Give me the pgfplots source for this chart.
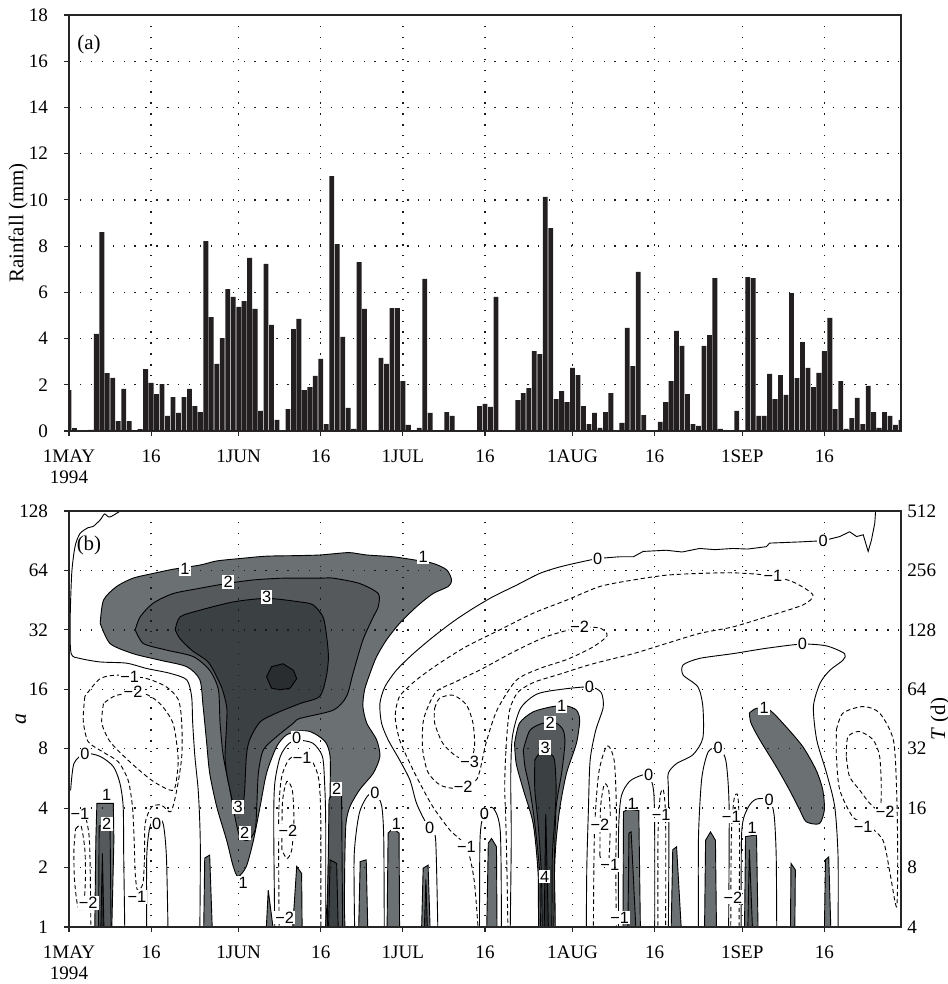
\documentclass[border=0pt]{standalone}
\usepackage{pgfplots}
\pgfplotsset{compat=1.18}
\usepackage{fontspec}
\setmainfont{Liberation Serif}
\newfontfamily\lblfont{Liberation Sans}
\definecolor{barc}{HTML}{231F20}
\definecolor{ca}{HTML}{6B7072}
\definecolor{cb}{HTML}{55595B}
\definecolor{cc}{HTML}{3B4042}
\definecolor{cd}{HTML}{2A2D2F}
\tikzset{
 lin/.style={black, line width=0.5pt, smooth, tension=0.45},
 neg/.style={lin, dash pattern=on 2.4pt off 1.6pt},
 spk/.style={fill=ca, draw=black, line width=0.5pt},
 lb/.style={fill=white, inner sep=0.7pt, font=\lblfont\fontsize{9}{9.5}\selectfont},
}
\pgfplotsset{
 myax/.style={scale only axis, width=457.6pt, height=228.8pt, xmin=0, xmax=152,
  xtick={0,15,31,46,61,76,92,107,123,138},
  xticklabels={{1MAY\\1994},16,1JUN,16,1JUL,16,1AUG,16,1SEP,16},
  xticklabel style={align=center, yshift=-4pt, font=\fontsize{10.5}{11.5}\selectfont},
  yticklabel style={xshift=-5pt, font=\fontsize{10.5}{11.5}\selectfont},
  tick align=outside, tick pos=left, major tick length=3pt,
  grid=major, grid style={black!90, line width=0.75pt, dash pattern=on 0.75pt off 5.25pt},
  axis line style={black!85, line width=0.6pt},
  tick style={black!85, line width=0.6pt},
  /pgf/number format/assume math mode=true},
}
\begin{document}
\begin{tikzpicture}
% ---------------- top panel ----------------
\begin{axis}[myax, at={(0,272.8pt)}, anchor=south west,
  ymin=0, ymax=18, ytick={0,2,...,18},
  ylabel={Rainfall (mm)},
  every axis y label/.style={at={(axis description cs:-0.061,0.5)}, rotate=90, anchor=center, font=\fontsize{11.5}{12.5}\selectfont}]
\addplot[ybar, bar width=0.88, bar shift=0pt, fill=barc, draw=none] table {
x y
0 1.77
1 0.12
2 0.02
3 0.02
4 0.05
5 4.2
6 8.6
7 2.5
8 2.3
9 0.43
10 1.82
11 0.43
12 0.04
13 0.08
14 2.68
15 2.08
16 1.6
17 2.03
18 0.65
19 1.47
20 0.78
21 1.47
22 1.82
23 1.08
24 0.82
25 8.22
26 4.93
27 2.9
28 4.02
29 6.14
30 5.8
31 5.37
32 5.62
33 7.49
34 5.28
35 0.87
36 7.23
37 4.59
38 0.48
39 0
40 0.95
41 4.41
42 4.85
43 1.77
44 1.9
45 2.38
46 3.12
47 0.3
48 11.03
49 8.09
50 4.07
51 1.0
52 0.09
53 7.31
54 5.28
55 0.04
56 0
57 3.16
58 2.9
59 5.32
60 5.32
61 2.16
62 0.26
63 0.04
64 0.13
65 6.58
66 0.78
67 0.04
68 0
69 0.82
70 0.65
71 0
72 0
73 0
74 0
75 1.08
76 1.17
77 1.04
78 5.8
79 0.04
80 0
81 0
82 1.34
83 1.64
84 1.86
85 3.46
86 3.33
87 10.13
88 8.78
89 1.38
90 1.73
91 1.25
92 2.73
93 2.42
94 1.08
95 0.3
96 0.78
97 0.13
98 0.82
99 1.64
100 0
101 0.35
102 4.46
103 2.81
104 6.88
105 0.69
106 0
107 0
108 0.39
109 1.25
110 2.16
111 4.33
112 3.68
113 1.6
114 0.3
115 0.22
116 3.68
117 4.15
118 6.62
119 0.09
120 0
121 0
122 0.87
123 0
124 6.66
125 6.62
126 0.65
127 0.65
128 2.47
129 1.38
130 2.42
131 1.56
132 5.97
133 2.29
134 3.85
135 2.73
136 1.9
137 2.51
138 3.46
139 4.89
140 0.95
141 2.16
142 0.09
143 0.56
144 1.43
145 0.3
146 1.95
147 0.82
148 0.13
149 0.82
150 0.65
151 0.26
152 0.48
};
\node[font=\fontsize{11.5}{12.5}\selectfont] at (axis description cs:0.024,0.928) {(a)};
\end{axis}
% ---------------- bottom panel ----------------
\begin{axis}[myax, at={(0,0)}, anchor=south west, axis on top,
  ymin=0, ymax=7, ytick={0,...,7}, yticklabels={1,2,4,8,16,32,64,128},
  ylabel={\textit{a}},
  every axis y label/.style={at={(axis description cs:-0.058,0.5)}, rotate=90, anchor=center, font=\fontsize{12}{13}\selectfont}]
% big blob level 1
\addplot[fill=ca, draw=black, line width=0.5pt, smooth, tension=0.45] coordinates {
(5.7,5.11) (6.3,5.50) (8.7,5.73) (11.7,5.87) (15.4,5.95) (19.0,6.02) (23.9,6.09) (27.0,6.16) (31.2,6.20) (36.1,6.24) (42.2,6.25) (45.8,6.26) (48.3,6.28) (51.3,6.30) (54.4,6.26) (59.2,6.23) (62.9,6.18) (66.5,6.12) (69.0,6.01) (69.9,5.84) (69.3,5.73) (66.5,5.61) (63.5,5.39) (60.4,5.11) (58.0,4.83) (56.2,4.55) (55.0,4.27) (54.0,3.99) (53.7,3.71) (54.4,3.43) (56.2,3.15) (56.8,2.87) (55.6,2.59) (53.1,2.31) (51.3,2.02) (50.6,1.74) (50.4,1.18) (50.3,0.4) (50.2,-0.2) (47.0,-0.2) (47.2,0.5) (47.4,1.18) (47.7,2.31) (47.7,2.87) (47.0,3.09) (45.8,3.20) (44.0,3.29) (42.2,3.30) (39.7,3.23) (37.9,3.03) (36.1,2.59) (34.9,2.02) (33.7,1.46) (32.4,1.02) (30.9,0.85) (30.0,1.02) (28.8,1.46) (27.0,2.02) (25.7,2.59) (25.1,3.15) (24.5,3.71) (23.9,4.16) (21.5,4.38) (16.6,4.49) (11.7,4.60) (7.5,4.77) (5.7,5.11)};
% level 2
\addplot[fill=cb, draw=black, line width=0.5pt, smooth, tension=0.45] coordinates {
(12.1,5.0) (13.0,5.22) (15.4,5.45) (19.0,5.61) (23.9,5.70) (28.8,5.78) (33.7,5.84) (39.1,5.87) (45.8,5.87) (48.3,5.87) (53.1,5.78) (56.5,5.61) (56.5,5.39) (55.6,5.22) (53.7,4.83) (51.9,4.27) (50.7,3.88) (48.3,3.65) (42.2,3.51) (41.0,3.43) (37.9,3.20) (35.5,2.98) (34.6,2.59) (34.3,2.02) (34.0,1.63) (32.7,1.46) (31.2,1.52) (30.3,1.86) (29.4,2.31) (28.2,2.87) (27.6,3.43) (27.3,3.99) (25.7,4.32) (22.7,4.55) (17.8,4.66) (13.6,4.77) (12.1,5.0)};
% level 3
\addplot[fill=cc, draw=black, line width=0.5pt, smooth, tension=0.45] coordinates {
(19.4,5.0) (20.3,5.22) (23.9,5.33) (30.0,5.47) (36.1,5.53) (42.2,5.47) (44.6,5.42) (46.4,5.22) (47.0,4.94) (47.4,4.55) (47.0,4.21) (45.8,3.88) (42.2,3.76) (37.9,3.60) (34.9,3.45) (33.0,3.15) (32.4,2.87) (32.1,2.31) (31.8,2.08) (30.9,2.0) (30.0,2.08) (29.4,2.31) (28.8,2.59) (28.5,2.87) (28.8,3.43) (28.8,3.71) (27.8,4.05) (25.5,4.45) (22.5,4.65) (20.3,4.85) (19.4,5.0)};
% level 4 core
\addplot[fill=cd, draw=black, line width=0.5pt] coordinates {
(36.1,4.21) (37.0,4.38) (39.1,4.43) (41.0,4.32) (41.6,4.18) (40.4,4.02) (38.5,3.99) (37.0,4.02) (36.1,4.21)};
% spikes
\addplot[spk] coordinates {(4.7,-0.1) (4.9,1.46) (5.1,2.08) (8.1,2.08) (8.2,1.46) (7.8,-0.1)};
\addplot[spk, fill=cb] coordinates {(5.4,-0.1) (5.5,1.70) (7.5,1.72) (7.7,-0.1)};
\addplot[spk, fill=cd] coordinates {(5.8,-0.1) (6.1,1.24) (6.4,-0.1)};
\addplot[spk] coordinates {(24.6,-0.1) (24.8,1.16) (25.7,1.21) (26.2,-0.1)};
\addplot[spk] coordinates {(36.0,-0.1) (36.4,0.62) (37.4,-0.1)};
\addplot[spk] coordinates {(40.8,-0.1) (41.6,1.02) (42.5,0.9) (42.6,-0.1)};
\addplot[spk, fill=cb] coordinates {(47.2,-0.1) (47.5,2.14) (48.3,2.28) (49.8,2.22) (50.0,-0.1)};
\addplot[spk, fill=cc] coordinates {(47.4,-0.1) (47.7,1.13) (48.9,1.07) (49.2,-0.1)};
\addplot[spk] coordinates {(52.9,-0.1) (53.2,1.1) (54.3,1.13) (54.6,-0.1)};
\addplot[spk] coordinates {(58.1,-0.1) (58.3,1.58) (59.2,1.66) (60.3,1.58) (60.4,-0.1)};
\addplot[spk] coordinates {(64.4,-0.1) (64.7,0.99) (65.6,1.04) (66.0,-0.1)};
\addplot[spk, fill=cc] coordinates {(64.9,-0.1) (65.2,0.8) (65.5,-0.1)};
\addplot[spk] coordinates {(76.3,-0.1) (76.6,1.41) (77.2,1.49) (78.1,1.35) (78.2,-0.1)};
% August feature
\addplot[fill=ca, draw=black, line width=0.5pt, smooth, tension=0.45] coordinates {
(81.4,3.09) (82.3,3.43) (84.8,3.62) (88.4,3.71) (90.9,3.72) (92.7,3.65) (93.3,3.48) (92.7,3.09) (90.9,2.59) (89.7,2.02) (89.0,1.46) (88.7,0.90) (88.7,-0.2) (86.0,-0.2) (85.7,0.90) (84.8,1.74) (83.0,2.31) (81.7,2.75) (81.4,3.09)};
\addplot[fill=cb, draw=black, line width=0.5pt, smooth, tension=0.45] coordinates {
(83.0,2.98) (84.2,3.31) (86.6,3.43) (89.0,3.43) (90.3,3.31) (90.6,3.09) (90.0,2.59) (89.0,2.02) (88.7,1.18) (88.4,-0.2) (86.3,-0.2) (86.0,0.9) (85.1,1.74) (84.2,2.31) (83.3,2.70) (83.0,2.98)};
\addplot[fill=cc, draw=black, line width=0.5pt, smooth, tension=0.45] coordinates {
(85.1,2.81) (86.0,2.92) (87.8,2.92) (88.7,2.81) (89.0,2.31) (88.7,1.74) (88.3,1.18) (88.1,-0.2) (86.6,-0.2) (86.3,0.9) (85.7,1.74) (85.1,2.31) (85.1,2.81)};
\addplot[spk, fill=cd] coordinates {(86.8,-0.1) (87.1,1.9) (87.6,-0.1)};
% tilted September blob
\addplot[fill=ca, draw=black, line width=0.5pt, smooth, tension=0.45] coordinates {
(124.3,3.60) (125.6,3.68) (128.0,3.65) (131.0,3.37) (134.1,3.03) (136.5,2.64) (137.7,2.31) (138.0,1.97) (137.1,1.74) (134.7,1.77) (133.5,1.97) (131.6,2.31) (129.2,2.70) (126.2,3.15) (124.6,3.43) (124.3,3.60)};
\addplot[spk] coordinates {(101.2,-0.1) (101.3,1.94) (102.1,1.98) (104.1,1.96) (104.4,-0.1)};
\addplot[spk, fill=cb] coordinates {(102.1,-0.1) (102.3,1.58) (102.7,1.60) (103.6,-0.1)};
\addplot[spk] coordinates {(110.0,-0.1) (110.3,1.30) (111.0,1.35) (111.9,-0.1)};
\addplot[spk] coordinates {(116.1,-0.1) (116.3,1.46) (117.2,1.60) (118.1,1.46) (118.3,-0.1)};
\addplot[spk] coordinates {(123.4,-0.1) (123.6,1.52) (125.6,1.55) (125.9,-0.1)};
\addplot[spk, fill=cb] coordinates {(124.0,-0.1) (124.3,1.3) (124.9,-0.1)};
\addplot[spk] coordinates {(131.8,-0.1) (131.9,1.07) (132.7,0.96) (132.6,-0.1)};
\addplot[spk] coordinates {(138.0,-0.1) (138.2,1.13) (138.8,1.18) (139.2,-0.1)};
% ---- contour lines ----
\addplot[lin] coordinates {(10.2,7.05) (7.5,6.9) (6.5,6.95) (5.7,6.85) (4.4,6.74) (3.5,6.72) (2.0,6.62) (1.1,6.40) (0.5,5.95) (0.2,5.11) (0.4,4.6) (2.0,4.52) (5.7,4.46) (10.5,4.44) (14.2,4.35) (18.4,4.27) (21.5,4.16) (22.4,3.88) (22.6,3.43) (23.0,2.87) (23.6,2.31) (23.9,1.74) (24.0,1.2) (23.9,-0.1)};
\addplot[lin] coordinates {(0.3,2.3) (0.9,2.75) (2.9,2.92) (5.7,2.87) (8.1,2.70) (9.3,2.42) (9.9,2.02) (10.0,1.18) (10.2,-0.1)};
\addplot[neg] coordinates {(2.9,3.88) (2.6,3.48) (3.5,3.12) (6.3,2.94) (9.0,2.78) (10.8,2.47) (11.6,2.02) (11.9,1.46) (12.1,0.9) (12.5,0.62) (13.5,0.73) (13.8,1.18) (13.9,1.74) (15.1,2.02) (16.9,2.05) (18.6,1.94) (19.7,2.31) (20.6,2.87) (20.6,3.43) (20.0,3.82) (17.8,4.04) (14.2,4.18) (9.3,4.24) (5.7,4.18) (2.9,3.88)};
\addplot[neg] coordinates {(6.3,3.76) (6.0,3.43) (7.5,3.12) (11.1,2.78) (15.4,2.45) (19.0,2.3) (19.8,2.6) (19.9,2.9) (19.0,3.43) (16.6,3.76) (13.6,3.93) (8.7,3.90) (6.3,3.76)};
\addplot[lin] coordinates {(14.2,-0.1) (14.2,1.18) (14.8,1.69) (16.0,1.83) (17.2,1.74) (17.8,1.18) (18.1,-0.1)};
\addplot[neg] coordinates {(0.0,1.95) (1.5,1.98) (3.0,1.85) (3.7,1.5) (3.9,0.8) (4.0,-0.1)};
\addplot[neg] coordinates {(1.2,1.65) (2.2,1.70) (2.9,1.3) (3.0,0.8) (2.6,0.3) (1.6,0.35) (1.0,0.8) (0.9,1.3) (1.2,1.65)};
\addplot[lin] coordinates {(37.6,-0.1) (37.4,1.74) (37.6,2.42) (38.6,2.87) (40.2,3.09) (42.2,3.14) (44.6,3.09) (46.3,2.87) (46.7,2.42) (46.9,1.74) (46.9,-0.1)};
\addplot[neg] coordinates {(38.4,-0.1) (38.3,1.8) (38.8,2.5) (40.2,2.82) (42.2,2.9) (44.2,2.82) (45.6,2.5) (46.0,1.8) (46.0,-0.1)};
\addplot[neg] coordinates {(38.9,1.3) (39.0,2.1) (39.8,2.45) (40.8,2.3) (41.1,1.8) (40.7,1.3) (39.8,1.15) (38.9,1.3)};
\addplot[lin] coordinates {(52.2,-0.1) (52.1,1.2) (53.0,1.9) (54.5,2.2) (55.9,2.25) (57.1,2.05) (57.5,1.5) (57.6,-0.1)};
\addplot[lin] coordinates {(67.4,-0.1) (67.1,1.18) (66.8,1.58) (65.3,1.74) (63.5,2.08) (62.3,2.47) (60.4,2.81) (58.3,3.15) (57.1,3.43) (56.8,3.76) (57.7,4.04) (59.8,4.32) (62.9,4.60) (66.5,4.88) (70.2,5.14) (73.8,5.36) (77.5,5.56) (81.7,5.75) (86.0,5.95) (89.7,6.06) (93.9,6.15) (96.7,6.20) (100.6,6.23)};
\addplot[black, line width=0.5pt] coordinates {(100.6,6.23) (103.1,6.23) (104.9,6.32) (109.1,6.34) (112.0,6.31) (115.2,6.37) (118.0,6.35) (121.3,6.37) (124.0,6.36) (127.4,6.40) (128.0,6.46) (133.5,6.48) (137.8,6.50) (140.8,6.57) (142.6,6.65) (143.9,6.57) (145.1,6.60) (146.0,6.32) (146.6,6.51) (147.2,6.79) (147.4,7.05)};
\addplot[neg] coordinates {(74.8,-0.1) (74.0,0.8) (72.6,1.35) (69.6,1.63) (66.5,2.02) (64.1,2.42) (62.3,2.75) (60.4,3.15) (59.6,3.54) (60.4,3.88) (63.5,4.16) (67.7,4.44) (72.6,4.72) (78.7,5.0) (84.8,5.28) (90.9,5.50) (97.0,5.73) (103.1,5.84) (109.1,5.92) (115.2,5.95) (121.3,5.96) (127.4,5.92) (132.2,5.81) (135.9,5.59) (134.1,5.42) (127.4,5.22) (121.3,5.05) (115.2,4.94) (109.1,4.77) (103.1,4.60) (97.0,4.46) (93.9,4.38) (89.5,4.25) (85.0,4.12) (82.0,3.95) (80.5,3.65) (79.9,3.1) (79.6,2.4) (79.8,1.8) (80.0,1.0) (80.2,-0.1)};
\addplot[neg] coordinates {(93.3,5.05) (87.0,4.88) (81.0,4.62) (75.6,4.35) (70.5,4.12) (67.0,3.95) (64.8,3.5) (64.6,3.0) (65.6,2.6) (68.0,2.38) (71.8,2.33) (74.6,2.5) (76.2,3.1) (78.2,3.65) (81.7,4.15) (86.0,4.35) (90.9,4.5) (95.5,4.7) (98.3,4.9) (97.0,5.03) (93.3,5.05)};
\addplot[neg] coordinates {(66.8,3.68) (67.7,3.85) (70.2,3.90) (72.6,3.74) (73.8,3.43) (74.1,3.03) (73.2,2.81) (70.8,2.87) (68.3,3.09) (66.8,3.43) (66.8,3.68)};
\addplot[lin] coordinates {(80.6,-0.1) (80.8,1.5) (80.7,2.5) (81.0,3.2) (82.5,3.68) (85.5,3.92) (90.0,4.0) (95.1,4.04) (97.2,3.95) (97.6,3.7) (96.2,3.3) (95.2,2.8) (94.9,2.0) (94.6,1.0) (94.5,-0.1)};
\addplot[lin] coordinates {(75.0,-0.1) (75.1,1.5) (75.9,1.93) (77.5,2.0) (78.8,1.6) (79.0,-0.1)};
\addplot[neg] coordinates {(95.8,-0.1) (96.0,1.6) (96.8,2.6) (98.3,3.05) (99.6,2.8) (100.0,2.0) (99.9,1.0) (100.0,-0.1)};
\addplot[neg] coordinates {(97.0,1.2) (97.1,2.0) (97.8,2.4) (98.6,2.3) (98.9,1.8) (98.6,1.1) (97.7,0.95) (97.0,1.2)};
\addplot[lin] coordinates {(100.4,-0.1) (100.4,1.6) (100.9,2.2) (102.4,2.45) (104.5,2.55) (105.9,2.56) (106.8,2.3) (107.0,1.6) (107.0,-0.1)};
\addplot[neg] coordinates {(107.6,-0.1) (107.6,1.5) (108.0,2.2) (108.6,2.3) (109.0,1.8) (109.0,-0.1)};
\addplot[lin] coordinates {(109.5,-0.1) (109.6,1.5) (109.5,2.31) (109.5,2.59) (111.0,2.75) (114.0,2.9) (115.8,3.18) (115.8,3.71) (114.9,4.04) (112.2,4.24) (112.2,4.41) (115.2,4.52) (121.3,4.60) (127.4,4.69) (133.8,4.76) (138.4,4.73) (141.7,4.60) (141.4,4.49) (139.0,4.32) (137.2,4.10) (136.0,3.71) (136.6,3.15) (138.4,2.59) (139.9,2.02) (140.5,1.18) (140.5,-0.1)};
\addplot[lin] coordinates {(115.0,-0.1) (115.0,1.5) (115.6,2.5) (116.8,2.95) (118.6,3.01) (120.0,2.8) (120.6,2.0) (120.5,-0.1)};
\addplot[lin] coordinates {(122.8,-0.1) (122.9,1.6) (124.0,2.0) (125.5,2.15) (127.9,2.14) (128.8,1.9) (129.2,1.2) (129.3,-0.1)};
\addplot[neg] coordinates {(120.9,-0.1) (121.0,1.5) (121.5,2.15) (122.2,2.2) (122.5,1.5) (122.4,-0.1)};
\addplot[neg] coordinates {(140.2,3.32) (141.4,3.60) (145.1,3.71) (148.1,3.60) (150.6,3.15) (151.2,2.31) (151.4,1.18) (151.2,0.34) (150.0,0.9) (148.7,1.46) (145.6,1.74) (143.2,1.85) (140.8,2.31) (140.2,2.87) (140.2,3.32)};
\addplot[neg] coordinates {(142.0,2.87) (142.3,3.20) (144.4,3.29) (146.9,3.15) (148.1,2.87) (148.4,2.31) (148.1,1.97) (146.3,2.08) (144.4,2.31) (142.6,2.53) (142.0,2.87)};
% ---- labels ----
\node[lb] at (axis cs:21.2,6.03) {1};
\node[lb] at (axis cs:29.1,5.81) {2};
\node[lb] at (axis cs:36.1,5.55) {3};
\node[lb] at (axis cs:30.9,2.02) {3};
\node[lb] at (axis cs:32.1,1.58) {2};
\node[lb] at (axis cs:31.8,0.75) {1};
\node[lb] at (axis cs:11.1,4.21) {−1};
\node[lb] at (axis cs:11.7,3.96) {−2};
\node[lb] at (axis cs:2.9,2.92) {0};
\node[lb] at (axis cs:6.9,2.22) {1};
\node[lb] at (axis cs:6.9,1.74) {2};
\node[lb] at (axis cs:2.0,1.91) {−1};
\node[lb] at (axis cs:3.5,0.41) {−2};
\node[lb] at (axis cs:16.0,1.74) {0};
\node[lb] at (axis cs:12.4,0.51) {−1};
\node[lb] at (axis cs:41.6,3.18) {0};
\node[lb] at (axis cs:42.6,2.84) {−1};
\node[lb] at (axis cs:40.0,1.62) {−2};
\node[lb] at (axis cs:39.4,0.16) {−2};
\node[lb] at (axis cs:64.7,6.22) {1};
\node[lb] at (axis cs:96.6,6.20) {0};
\node[lb] at (axis cs:93.3,5.05) {−2};
\node[lb] at (axis cs:95.1,4.04) {0};
\node[lb] at (axis cs:90.0,3.72) {1};
\node[lb] at (axis cs:87.9,3.44) {2};
\node[lb] at (axis cs:87.0,3.02) {3};
\node[lb] at (axis cs:86.9,0.85) {4};
\node[lb] at (axis cs:73.2,2.78) {−3};
\node[lb] at (axis cs:72.0,2.36) {−2};
\node[lb] at (axis cs:72.6,1.35) {−1};
\node[lb] at (axis cs:75.9,1.91) {0};
\node[lb] at (axis cs:48.9,2.33) {2};
\node[lb] at (axis cs:55.9,2.25) {0};
\node[lb] at (axis cs:59.8,1.74) {1};
\node[lb] at (axis cs:65.9,1.66) {0};
\node[lb] at (axis cs:97.0,1.72) {−2};
\node[lb] at (axis cs:98.8,1.04) {−1};
\node[lb] at (axis cs:137.8,6.50) {0};
\node[lb] at (axis cs:128.6,5.91) {−1};
\node[lb] at (axis cs:134.0,4.76) {0};
\node[lb] at (axis cs:127.0,3.68) {1};
\node[lb] at (axis cs:118.6,3.01) {0};
\node[lb] at (axis cs:105.9,2.56) {0};
\node[lb] at (axis cs:102.9,2.08) {1};
\node[lb] at (axis cs:108.2,1.88) {−1};
\node[lb] at (axis cs:127.9,2.14) {0};
\node[lb] at (axis cs:124.8,1.66) {1};
\node[lb] at (axis cs:121.0,1.86) {−1};
\node[lb] at (axis cs:121.3,0.50) {−2};
\node[lb] at (axis cs:100.6,0.16) {−1};
\node[lb] at (axis cs:145.1,1.69) {−1};
\node[lb] at (axis cs:149.1,1.94) {−2};
\node[font=\fontsize{11.5}{12.5}\selectfont] at (axis description cs:0.024,0.918) {(b)};
\end{axis}
% right-hand period axis
\begin{axis}[at={(0,0)}, anchor=south west, scale only axis, width=457.6pt, height=228.8pt,
  xmin=0, xmax=152, ymin=0, ymax=7, axis x line=none, axis y line*=right,
  ytick={0,...,7}, yticklabels={4,8,16,32,64,128,256,512},
  yticklabel style={font=\fontsize{10.5}{11.5}\selectfont},
  major tick length=0pt, axis line style={draw=none},
  ylabel={\textit{T} (d)},
  every axis y label/.style={at={(axis description cs:1.047,0.5)}, rotate=90, anchor=center, font=\fontsize{11.5}{12.5}\selectfont}]
\end{axis}
\pgfresetboundingbox
\useasboundingbox (-37.95pt,-31.35pt) rectangle (483.45pt,509.85pt);
\end{tikzpicture}
\end{document}
